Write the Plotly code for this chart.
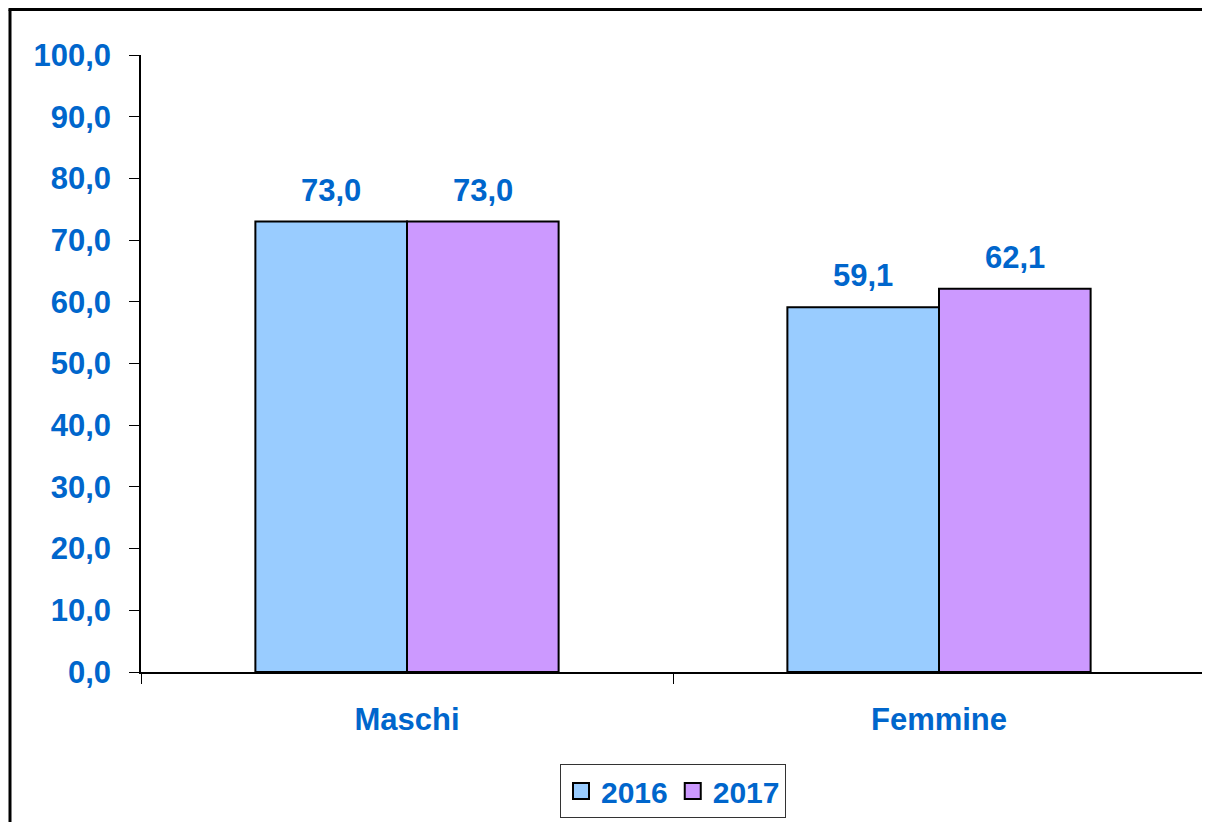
import plotly.graph_objects as go

categories = ["Maschi", "Femmine"]
series_names = ["2016", "2017"]
values_2016 = [73.0, 59.1]
values_2017 = [73.0, 62.1]
y_ticks = [0, 10, 20, 30, 40, 50, 60, 70, 80, 90, 100]

BLUE = "#0066CC"
FONT = "Liberation Sans, Arial, sans-serif"
colors = ["#99CCFF", "#CC99FF"]
FS = 31

# page has an 8px body margin; figure coords = screen coords - 8
OFF = 8
W, H = 1202, 814
L = 141 - OFF
T = 55 - OFF
R = W - (1205 - OFF)
B = H - (673 - OFF)
pw, ph = W - L - R, H - T - B

def px(xs):
    return (xs - OFF - L) / pw

def py(ys):
    return (H - B - (ys - OFF)) / ph

BARGAP = 0.43
half = (1 - BARGAP) / 4

fig = go.Figure()
annotations = []
for k, (name, vals, col) in enumerate(zip(series_names, [values_2016, values_2017], colors)):
    fig.add_trace(go.Bar(
        x=categories, y=vals, name=name, showlegend=False,
        marker=dict(color=col, line=dict(color="black", width=2)),
    ))
    # legend entry with a bigger square symbol
    fig.add_trace(go.Scatter(
        x=[None], y=[None], name=name, mode="markers",
        marker=dict(symbol="square", size=16, color=col,
                    line=dict(color="black", width=2)),
    ))
    sign = -1 if k == 0 else 1
    for i, v in enumerate(vals):
        annotations.append(dict(
            x=i + sign * half, y=v, xref="x", yref="y",
            text=f"{v:.1f}".replace(".", ","), showarrow=False,
            yanchor="bottom", yshift=12,
            font=dict(family=FONT, size=FS, color=BLUE, weight="bold"),
        ))

fig.update_layout(
    width=W, height=H,
    margin=dict(l=L, r=R, t=T, b=B, pad=0),
    paper_bgcolor="white", plot_bgcolor="white",
    separators=",.",
    barmode="group", bargap=BARGAP, bargroupgap=0,
    font=dict(family=FONT, color=BLUE, size=FS, weight="bold"),
    showlegend=True,
    legend=dict(
        orientation="h", x=0.5, xanchor="center", y=py(818), yanchor="bottom",
        bordercolor="#333333", borderwidth=1, bgcolor="white",
        font=dict(family=FONT, size=30, color=BLUE, weight="bold"),
        itemsizing="trace", itemwidth=30, tracegroupgap=0,
    ),
    xaxis=dict(
        showline=True, linecolor="black", linewidth=1.5,
        ticks="outside", ticklen=10, tickcolor="black", tickwidth=1,
        tickson="boundaries", ticklabelstandoff=19,
        tickfont=dict(family=FONT, size=FS, color=BLUE, weight="bold"),
        showgrid=False, zeroline=False, range=[-0.5, 1.5],
    ),
    yaxis=dict(
        range=[0, 100], tickvals=y_ticks, tickformat=".1f",
        showline=True, linecolor="black", linewidth=1.5,
        ticks="outside", ticklen=10, tickcolor="black", tickwidth=1,
        ticklabelstandoff=12,
        tickfont=dict(family=FONT, size=FS, color=BLUE, weight="bold"),
        showgrid=False, zeroline=False,
    ),
    annotations=annotations,
    shapes=[
        dict(type="line", xref="paper", yref="paper", x0=px(10), x1=px(10),
             y0=py(9.5), y1=py(H + 20), line=dict(color="black", width=3)),
        dict(type="line", xref="paper", yref="paper", x0=px(8.5), x1=px(W + 20),
             y0=py(9.5), y1=py(9.5), line=dict(color="black", width=3)),
    ],
)

fig.write_html("out.html")
